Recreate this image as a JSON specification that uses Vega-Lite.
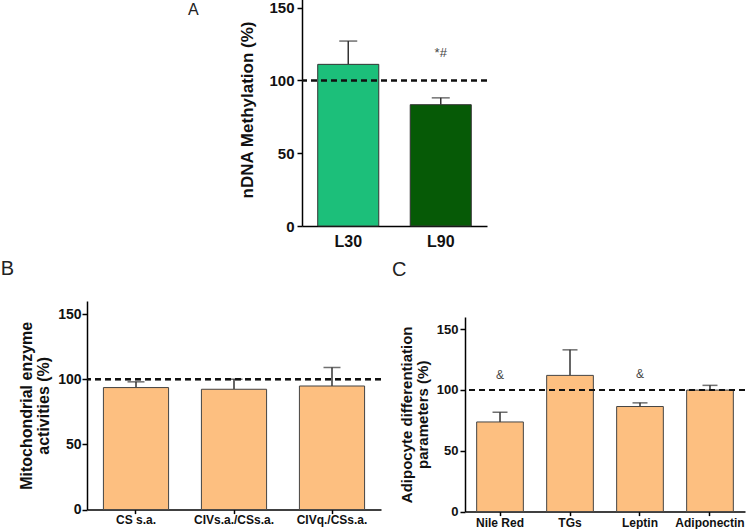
{
  "$schema": "https://vega.github.io/schema/vega-lite/v6.json",
  "padding": {"left": 0, "top": -7, "right": 0, "bottom": 0},
  "background": "white",
  "config": {
    "view": {"stroke": null},
    "font": "Liberation Sans",
    "axis": {
      "domainColor": "#000", "domainWidth": 1.5, "tickColor": "#000", "tickWidth": 1.5,
      "labelColor": "#111", "titleColor": "#111", "labelFontWeight": "bold", "titleFontWeight": "bold",
      "grid": false, "labelFont": "Liberation Sans", "titleFont": "Liberation Sans"
    },
    "axisX": {"labelAlign": "center", "labelBaseline": "top", "labelAngle": 0},
    "title": {"font": "Liberation Sans", "fontWeight": "normal", "color": "#222", "anchor": "start", "frame": "bounds", "baseline": "alphabetic"}
  },
  "spacing": 10,
  "vconcat": [
    {
      "spacing": 0,
      "hconcat": [
        {"width": 100, "height": 10, "data": {"values": []}, "mark": {"type": "point", "opacity": 0}},
        {
          "width": 185, "height": 233,
          "title": {"text": "A", "fontSize": 16, "dx": -51, "dy": 24.5, "offset": 0},
          "data": {"values": [
            {"group": "L30", "value": 111, "upper": 127, "note": null, "ny": null},
            {"group": "L90", "value": 83.3, "upper": 88, "note": "*#", "ny": 119}
          ]},
          "layer": [
            {
              "mark": {"type": "rule", "strokeWidth": 1.5, "color": "#333"},
              "encoding": {
                "x": {"field": "group", "type": "nominal", "sort": null},
                "y": {"field": "value", "type": "quantitative", "title": "nDNA Methylation (%)"},
                "y2": {"field": "upper"}
              }
            },
            {
              "mark": {"type": "tick", "size": 18, "thickness": 1.5, "color": "#333"},
              "encoding": {
                "x": {"field": "group", "type": "nominal", "sort": null},
                "y": {"field": "upper", "type": "quantitative", "title": "nDNA Methylation (%)"}
              }
            },
            {
              "mark": {"type": "bar", "stroke": "#333", "strokeWidth": 1},
              "encoding": {
                "x": {"field": "group", "type": "nominal", "sort": null,
                  "scale": {"paddingInner": 0.34, "paddingOuter": 0.17},
                  "axis": {"title": null, "labelFontSize": 16, "ticks": false, "labelPadding": 7}},
                "y": {"field": "value", "type": "quantitative", "title": "nDNA Methylation (%)",
                  "scale": {"domain": [0, 150]},
                  "axis": {"values": [0, 50, 100, 150], "labelFontSize": 15, "tickSize": 5, "labelPadding": 3, "titleFontSize": 17, "titlePadding": 12}},
                "color": {"field": "group", "type": "nominal", "scale": {"domain": ["L30", "L90"], "range": ["#1cbf7a", "#065a06"]}, "legend": null}
              }
            },
            {
              "mark": {"type": "rule", "strokeDash": [6, 4], "strokeWidth": 2, "color": "#111"},
              "encoding": {"y": {"datum": 100}}
            },
            {
              "mark": {"type": "text", "fontSize": 13, "color": "#444"},
              "encoding": {
                "x": {"field": "group", "type": "nominal", "sort": null},
                "y": {"field": "ny", "type": "quantitative", "title": "nDNA Methylation (%)"},
                "text": {"field": "note"}
              }
            }
          ]
        }
      ]
    },
    {
      "spacing": 10,
      "align": "none",
      "hconcat": [
        {
          "width": 294, "height": 208.6,
          "title": {"text": "B", "fontSize": 20, "dx": -18, "offset": 22},
          "data": {"values": [
            {"group": "CS s.a.", "value": 93.6, "upper": 98},
            {"group": "CIVs.a./CSs.a.", "value": 92.3, "upper": 100},
            {"group": "CIVq./CSs.a.", "value": 94.8, "upper": 109}
          ]},
          "layer": [
            {
              "mark": {"type": "rule", "strokeWidth": 1.5, "color": "#333"},
              "encoding": {
                "x": {"field": "group", "type": "nominal", "sort": null},
                "y": {"field": "value", "type": "quantitative", "title": ["Mitochondrial enzyme", "activities (%)"]},
                "y2": {"field": "upper"}
              }
            },
            {
              "mark": {"type": "tick", "size": 17, "thickness": 1.5, "color": "#333"},
              "encoding": {
                "x": {"field": "group", "type": "nominal", "sort": null},
                "y": {"field": "upper", "type": "quantitative", "title": ["Mitochondrial enzyme", "activities (%)"]}
              }
            },
            {
              "mark": {"type": "bar", "stroke": "#444", "strokeWidth": 1, "color": "#fdbf80"},
              "encoding": {
                "x": {"field": "group", "type": "nominal", "sort": null,
                  "scale": {"paddingInner": 0.335, "paddingOuter": 0.1675},
                  "axis": {"title": null, "labelFontSize": 12, "tickSize": 4, "labelPadding": 0.5}},
                "y": {"field": "value", "type": "quantitative", "title": ["Mitochondrial enzyme", "activities (%)"],
                  "scale": {"domain": [0, 150]},
                  "axis": {"values": [0, 50, 100, 150], "labelFontSize": 14, "tickSize": 5, "labelPadding": 1, "titleFontSize": 16, "titleLineHeight": 17, "titlePadding": 6}}
              }
            },
            {
              "mark": {"type": "rule", "strokeDash": [6, 4], "strokeWidth": 2, "color": "#111"},
              "encoding": {"y": {"datum": 100}}
            }
          ]
        },
        {
          "spacing": 15,
          "vconcat": [
            {"width": 280, "height": 1, "title": {"text": "C", "fontSize": 20, "dx": -73, "offset": 21, "frame": "group"}, "data": {"values": []}, "mark": {"type": "point", "opacity": 0}},
            {
              "width": 280, "height": 194.6,
              "data": {"values": [
                {"group": "Nile Red", "value": 73.7, "upper": 81.7, "note": "&", "ny": 112},
                {"group": "TGs", "value": 112, "upper": 133, "note": null, "ny": null},
                {"group": "Leptin", "value": 86.4, "upper": 89.4, "note": "&", "ny": 113.5},
                {"group": "Adiponectin", "value": 99.9, "upper": 103.8, "note": null, "ny": null}
              ]},
              "layer": [
                {
                  "mark": {"type": "rule", "strokeWidth": 1.5, "color": "#333"},
                  "encoding": {
                    "x": {"field": "group", "type": "nominal", "sort": null},
                    "y": {"field": "value", "type": "quantitative", "title": ["Adipocyte differentiation", "parameters (%)"]},
                    "y2": {"field": "upper"}
                  }
                },
                {
                  "mark": {"type": "tick", "size": 15, "thickness": 1.5, "color": "#333"},
                  "encoding": {
                    "x": {"field": "group", "type": "nominal", "sort": null},
                    "y": {"field": "upper", "type": "quantitative", "title": ["Adipocyte differentiation", "parameters (%)"]}
                  }
                },
                {
                  "mark": {"type": "bar", "stroke": "#444", "strokeWidth": 1, "color": "#fdbf80"},
                  "encoding": {
                    "x": {"field": "group", "type": "nominal", "sort": null,
                      "scale": {"paddingInner": 0.333, "paddingOuter": 0.1667},
                      "axis": {"title": null, "labelFontSize": 12, "tickSize": 4, "labelPadding": 2}},
                    "y": {"field": "value", "type": "quantitative", "title": ["Adipocyte differentiation", "parameters (%)"],
                      "scale": {"domain": [0, 150]},
                      "axis": {"values": [0, 50, 100, 150], "labelFontSize": 13, "tickSize": 5, "labelPadding": 2, "titleFontSize": 15, "titleLineHeight": 16, "titlePadding": 6}}
                  }
                },
                {
                  "mark": {"type": "rule", "strokeDash": [6, 4], "strokeWidth": 2, "color": "#111"},
                  "encoding": {"y": {"datum": 100}}
                },
                {
                  "mark": {"type": "text", "fontSize": 12, "color": "#444"},
                  "encoding": {
                    "x": {"field": "group", "type": "nominal", "sort": null},
                    "y": {"field": "ny", "type": "quantitative", "title": ["Adipocyte differentiation", "parameters (%)"]},
                    "text": {"field": "note"}
                  }
                }
              ]
            }
          ]
        }
      ]
    }
  ]
}
